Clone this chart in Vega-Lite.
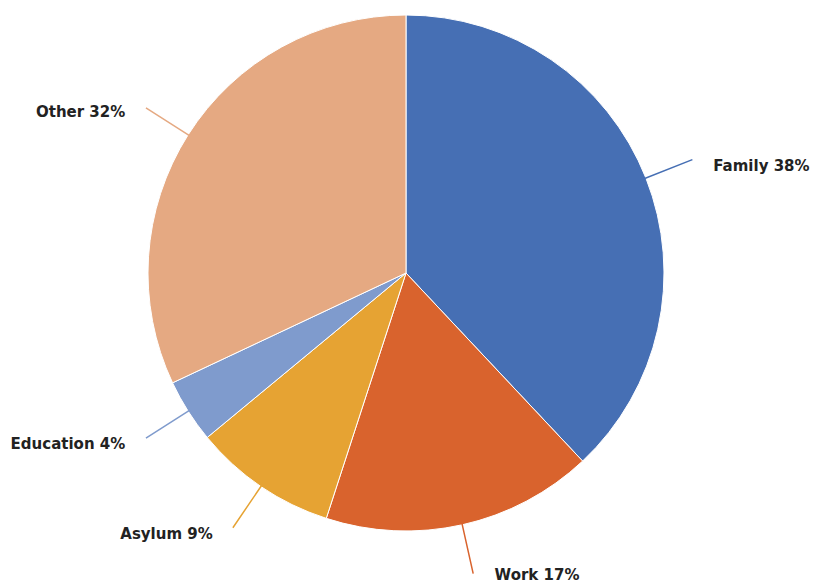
{
  "$schema": "https://vega.github.io/schema/vega-lite/v6.json",
  "width": 812,
  "height": 546,
  "autosize": {"type": "none"},
  "padding": {"top": 0, "left": 0, "right": 2, "bottom": 39},
  "background": "white",
  "view": {"stroke": null},
  "data": {"values": [
    {"category": "Family", "pct": 38},
    {"category": "Work", "pct": 17},
    {"category": "Asylum", "pct": 9},
    {"category": "Education", "pct": 4},
    {"category": "Other", "pct": 32}
  ]},
  "transform": [
    {"stack": "pct", "groupby": [], "as": ["s", "e"]},
    {"calculate": "(datum.s + datum.e) / 2", "as": "mid"},
    {"calculate": "datum.category + ' ' + datum.pct + '%'", "as": "label"}
  ],
  "layer": [
    {
      "mark": {"type": "arc", "outerRadius": 258, "stroke": "white", "strokeWidth": 1},
      "encoding": {
        "theta": {"field": "s", "type": "quantitative", "stack": null, "scale": {"domain": [0, 100]}},
        "theta2": {"field": "e"},
        "color": {"field": "category", "type": "nominal", "legend": null,
          "scale": {"domain": ["Family", "Work", "Asylum", "Education", "Other"],
                    "range": ["#466fb4", "#d9632d", "#e6a333", "#7f9bcd", "#e5a982"]}}
      }
    },
    {
      "mark": {"type": "arc", "outerRadius": 308, "innerRadius": 256, "fill": null, "strokeWidth": 1.5},
      "encoding": {
        "theta": {"field": "mid", "type": "quantitative", "stack": null},
        "theta2": {"field": "mid"},
        "stroke": {"field": "category", "type": "nominal", "legend": null,
          "scale": {"domain": ["Family", "Work", "Asylum", "Education", "Other"],
                    "range": ["#466fb4", "#d9632d", "#e6a333", "#7f9bcd", "#e5a982"]}}
      }
    },
    {
      "transform": [{"filter": "datum.category == 'Family'"}],
      "mark": {"type": "text", "radius": 310, "align": "left", "baseline": "middle", "dx": 19, "dy": 7,
               "font": "DejaVu Sans", "fontWeight": "bold", "fontSize": 15, "fill": "#222"},
      "encoding": {
        "theta": {"field": "mid", "type": "quantitative", "stack": null},
        "text": {"field": "label"}
      }
    },
    {
      "transform": [{"filter": "datum.category == 'Work'"}],
      "mark": {"type": "text", "radius": 310, "align": "left", "baseline": "middle", "dx": 21, "dy": -1,
               "font": "DejaVu Sans", "fontWeight": "bold", "fontSize": 15, "fill": "#222"},
      "encoding": {
        "theta": {"field": "mid", "type": "quantitative", "stack": null},
        "text": {"field": "label"}
      }
    },
    {
      "transform": [{"filter": "datum.mid >= 50"}],
      "mark": {"type": "text", "radius": 310, "align": "right", "baseline": "middle", "dx": -19, "dy": 5,
               "font": "DejaVu Sans", "fontWeight": "bold", "fontSize": 15, "fill": "#222"},
      "encoding": {
        "theta": {"field": "mid", "type": "quantitative", "stack": null},
        "text": {"field": "label"}
      }
    }
  ]
}
